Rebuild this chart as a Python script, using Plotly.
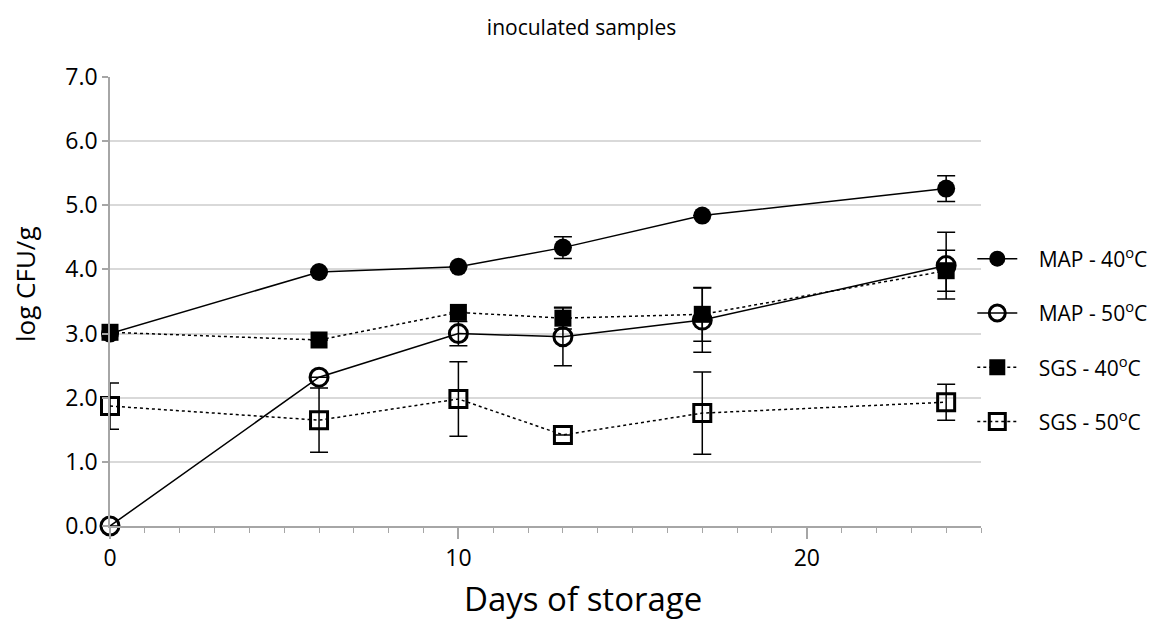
import plotly.graph_objects as go

days = [0, 6, 10, 13, 17, 24]

map40 = [3.00, 3.96, 4.04, 4.34, 4.84, 5.26]
map40_err = [0.0, 0.0, 0.0, 0.17, 0.0, 0.20]

map50 = [0.00, 2.32, 3.00, 2.95, 3.21, 4.06]
map50_err = [0.0, 0.0, 0.19, 0.45, 0.50, 0.52]

sgs40 = [3.02, 2.90, 3.33, 3.24, 3.30, 3.98]
sgs40_err = [0.0, 0.0, 0.0, 0.17, 0.42, 0.32]

sgs50 = [1.87, 1.65, 1.98, 1.42, 1.76, 1.93]
sgs50_err = [0.36, 0.50, 0.58, 0.0, 0.64, 0.28]

names = ["MAP - 40<sup>o</sup>C", "MAP - 50<sup>o</sup>C",
         "SGS - 40<sup>o</sup>C", "SGS - 50<sup>o</sup>C"]

x_title = "Days of storage"
y_title = "log CFU/g"
chart_title = "inoculated samples"

series = [
    (map40, map40_err, "circle", "solid"),
    (map50, map50_err, "circle-open", "solid"),
    (sgs40, sgs40_err, "square", "dot"),
    (sgs50, sgs50_err, "square-open", "dot"),
]

pad = "\u00a0" * 3

fig = go.Figure()
for i, (vals, errs, sym, dash) in enumerate(series):
    fig.add_trace(go.Scatter(
        x=days, y=vals, name=pad + names[i], mode="lines+markers",
        line=dict(color="black", width=1.5, dash=dash),
        marker=dict(symbol=sym, size=18 if "circle" in sym else 17, color="black",
                    line=dict(color="black", width=3 if "open" in sym else 0)),
        error_y=dict(type="data", array=errs, visible=True, color="black",
                     thickness=1.5, width=9),
        cliponaxis=False, legendgroup=str(i),
    ))

# page body has an 8px margin, so shift the plot area up/left by 8px
fig.update_layout(
    width=1161, height=628,
    paper_bgcolor="white", plot_bgcolor="white",
    margin=dict(l=102, r=188, t=69, b=110),
    font=dict(family="Open Sans, Noto Sans, sans-serif", color="black"),
    title=dict(text=chart_title, x=0.494, xanchor="center", y=0.968,
               yanchor="middle", font=dict(size=21)),
    showlegend=True,
    legend=dict(x=0.990, y=0.413, xanchor="left", yanchor="middle",
                font=dict(size=21), tracegroupgap=24, itemwidth=40,
                bgcolor="rgba(0,0,0,0)"),
    xaxis=dict(range=[0, 25], tickvals=[0, 10, 20], ticktext=["0", "10", "20"],
               showgrid=False, showline=True, linecolor="#a6a6a6", linewidth=1.5,
               ticks="outside", ticklen=11, tickwidth=1.5, tickcolor="#a6a6a6",
               tickfont=dict(size=23), zeroline=False,
               minor=dict(dtick=1, tick0=0, ticks="outside", ticklen=5,
                          tickcolor="#a6a6a6", tickwidth=1.2, showgrid=False)),
    yaxis=dict(range=[0, 7], tickvals=[0, 1, 2, 3, 4, 5, 6, 7], tickformat=".1f",
               showgrid=True, gridcolor="#d9d9d9", gridwidth=1.5,
               showline=True, linecolor="#a6a6a6", linewidth=1.5,
               ticks="outside", ticklen=6, tickwidth=1.5, tickcolor="#a6a6a6",
               tickfont=dict(size=23), zeroline=False),
    annotations=[
        dict(text=x_title, xref="paper", yref="paper", x=0.543, y=-0.161,
             xanchor="center", yanchor="middle", showarrow=False,
             font=dict(size=33)),
        dict(text=y_title, xref="paper", yref="paper", x=-0.0976, y=0.539,
             xanchor="center", yanchor="middle", showarrow=False,
             textangle=-90, font=dict(size=26)),
    ],
)

fig.write_html("out.html")
